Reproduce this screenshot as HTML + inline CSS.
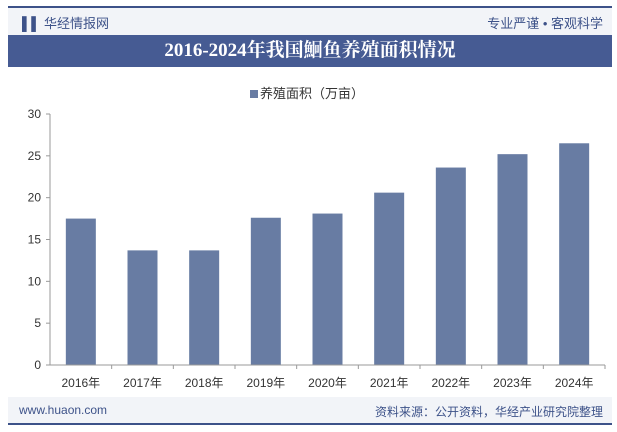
<!DOCTYPE html>
<html><head><meta charset="utf-8"><style>
body{margin:0;width:617px;height:432px;background:#fff;font-family:"Liberation Sans","Noto Sans CJK SC",sans-serif;position:relative;overflow:hidden}
.abs{position:absolute}
</style></head><body>
<div class="abs" style="left:8px;top:6px;width:604px;height:2px;background:#3d5289"></div>
<div class="abs" style="left:8px;top:8px;width:604px;height:27px;background:#f2f4f8"></div>
<div class="abs" style="left:22px;top:13px;font-size:13px;color:#3d5289">▌▌ 华经情报网</div>
<div class="abs" style="right:14px;top:13px;font-size:13px;color:#3d5289">专业严谨 • 客观科学</div>
<div class="abs" style="left:8px;top:35px;width:604px;height:32px;background:#465b93;color:#fff;font:bold 19px 'Liberation Serif','Noto Serif CJK SC',serif;text-align:center;line-height:32px">2016-2024年我国鮰鱼养殖面积情况</div>
<div class="abs" style="left:250px;top:83px;font-size:13px;color:#333"><span style="display:inline-block;width:8px;height:8px;background:#687ca3;margin-right:2px"></span>养殖面积（万亩）</div>
<svg class="abs" style="left:0;top:0" width="617" height="432" id="chart"></svg>
<div class="abs" style="left:8px;top:397px;width:604px;height:26px;background:#f2f4f8"></div>
<div class="abs" style="left:8px;top:423px;width:604px;height:2px;background:#3d5289"></div>
<div class="abs" style="left:19px;top:403px;font-size:12px;color:#3d5289">www.huaon.com</div>
<div class="abs" style="right:14px;top:403px;font-size:12px;color:#3d5289">资料来源：公开资料，华经产业研究院整理</div>
<script>
const categories=["2016年","2017年","2018年","2019年","2020年","2021年","2022年","2023年","2024年"];
const values=[17.5,13.7,13.7,17.6,18.1,20.6,23.6,25.2,26.5];
const yTicks=[0,5,10,15,20,25,30];
const svg=document.getElementById('chart');const NS="http://www.w3.org/2000/svg";
const x0=50,x1=605,yBase=365,yTop=114,yMax=30;
const step=(x1-x0)/categories.length;
const y=v=>yBase-(v/yMax)*(yBase-yTop);
function mk(t,a){const e=document.createElementNS(NS,t);for(const k in a)e.setAttribute(k,a[k]);svg.appendChild(e);return e;}
const yl=mk('line',{x1:x0,y1:yTop,x2:x0,y2:yBase,stroke:'#999'});


yTicks.forEach(t=>{
 mk('line',{x1:x0-4,y1:y(t),x2:x0,y2:y(t),stroke:'#999'});
 const tx=mk('text',{x:x0-9,y:y(t)+4,'text-anchor':'end','font-size':12,fill:'#333'});tx.textContent=t;
 
 
});
categories.forEach((c,i)=>{
 const cx=x0+step*(i+0.5);
 const b=mk('rect',{x:cx-15,y:y(values[i]),width:30,height:yBase-y(values[i]),fill:'#687ca3'});
 
 
 mk('line',{x1:x0+step*(i+1),y1:yBase,x2:x0+step*(i+1),y2:yBase+4,stroke:'#999'});
 const tx=mk('text',{x:cx,y:yBase+22,'text-anchor':'middle','font-size':12,fill:'#333'});tx.textContent=c;
 
 
});
const xl=mk('line',{x1:x0,y1:yBase,x2:x1,y2:yBase,stroke:'#999'});


</script>
</body></html>
